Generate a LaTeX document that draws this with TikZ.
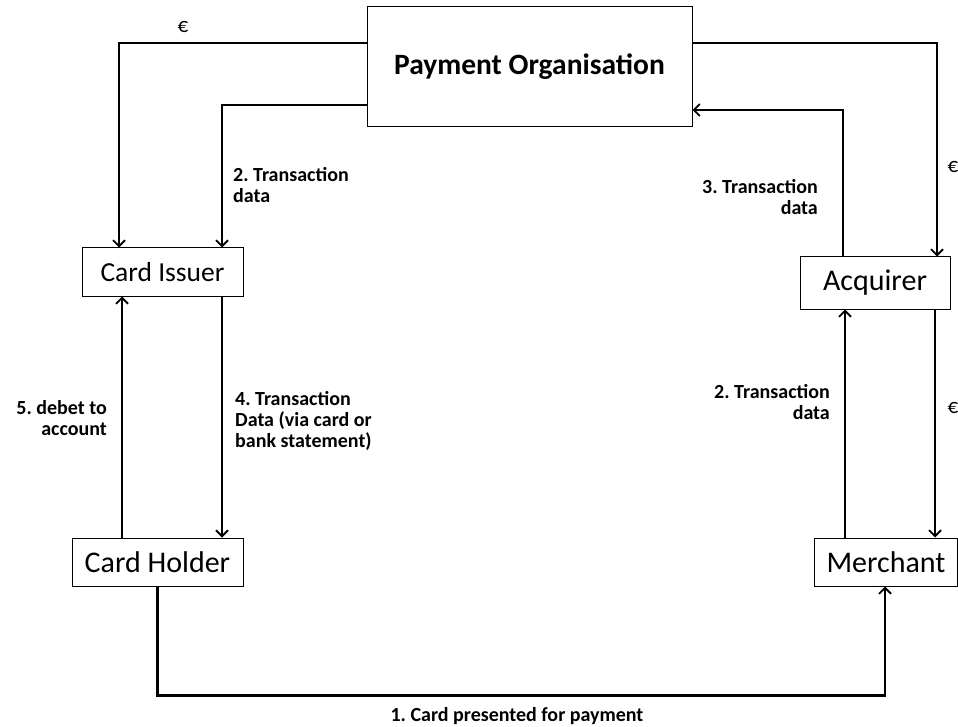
\documentclass[tikz,border=0pt]{standalone}
\usepackage{fontspec}
\setmainfont{Carlito}
\usetikzlibrary{arrows.meta}
\begin{document}
\frenchspacing
\begin{tikzpicture}[x=1pt,y=-1pt,
  box/.style={draw, line width=1pt, inner sep=0pt, font=\fontsize{30}{34}\selectfont},
  conn/.style={line width=2.5pt, -{Straight Barb[length=6pt,width=12pt,line width=1.8pt]}},
  lbl/.style={font=\bfseries\fontsize{20}{21}\selectfont, inner sep=0pt, align=left},
  lblr/.style={font=\bfseries\fontsize{20}{21}\selectfont, inner sep=0pt, align=right},
  eur/.style={font=\fontsize{21}{22}\selectfont, inner sep=0pt}]
\useasboundingbox (0,0) rectangle (958,727);
\node[box, minimum width=325, minimum height=120, font=\bfseries\fontsize{29.5}{34}\selectfont] (po) at (529.5,67) {Payment Organisation};
\node[box, minimum width=161, minimum height=48, font=\fontsize{27.5}{32}\selectfont] (ci) at (162.5,272) {Card Issuer};
\node[box, minimum width=150, minimum height=52] (aq) at (875,283) {Acquirer\hspace{24pt}};
\node[box, minimum width=171, minimum height=48] (ch) at (157.5,562) {Card Holder};
\node[box, minimum width=143, minimum height=48] (me) at (886,562) {Merchant};
% euro left
\draw[conn] ([yshift=24]po.west) -| ([xshift=-43.5]ci.north);
\node[eur] (e1) at (183,27) {€};
% 2. transaction data to issuer
\draw[conn] ([yshift=-38]po.west) -| ([xshift=59.5]ci.north);
\node[lbl, anchor=north west] (l2a) at (233,167) {2. Transaction\\data};
% 3. transaction data acquirer -> PO
\draw[conn] ([xshift=-32]aq.north) |- ([yshift=-43]po.east);
\node[lblr, anchor=north east] (l3) at (818,179) {3. Transaction\\data};
% euro right
\draw[conn] ([yshift=24]po.east) -| ([xshift=62]aq.north);
\node[eur] (e2) at (953,167) {€};
% acquirer -> merchant euro
\draw[conn] ([xshift=60]aq.south) -- ([xshift=60]aq.south |- me.north);
\node[eur] (e3) at (953,408) {€};
% merchant -> acquirer
\draw[conn] ([xshift=-30]aq.south |- me.north) -- ([xshift=-30]aq.south);
\node[lblr, anchor=north east] (l2b) at (830,384) {2. Transaction\\data};
% card holder -> issuer
\draw[conn] ([xshift=-40.5]ci.south |- ch.north) -- ([xshift=-40.5]ci.south);
\node[lblr, anchor=north east] (l5) at (107,400) {5. debet to\\account};
% issuer -> holder
\draw[conn] ([xshift=59.5]ci.south) -- ([xshift=59.5]ci.south |- ch.north);
\node[lbl, anchor=north west] (l4) at (235,391) {4. Transaction\\Data (via card or\\bank statement)};
% 1. card presented
\coordinate (b1) at ([yshift=-109]ch.south);
\draw[conn] (ch.south) -- (b1) -| ([xshift=-1]me.south);
\node[lbl, anchor=center] (l1) at (517,716) {1. Card presented for payment};
\end{tikzpicture}
\end{document}
